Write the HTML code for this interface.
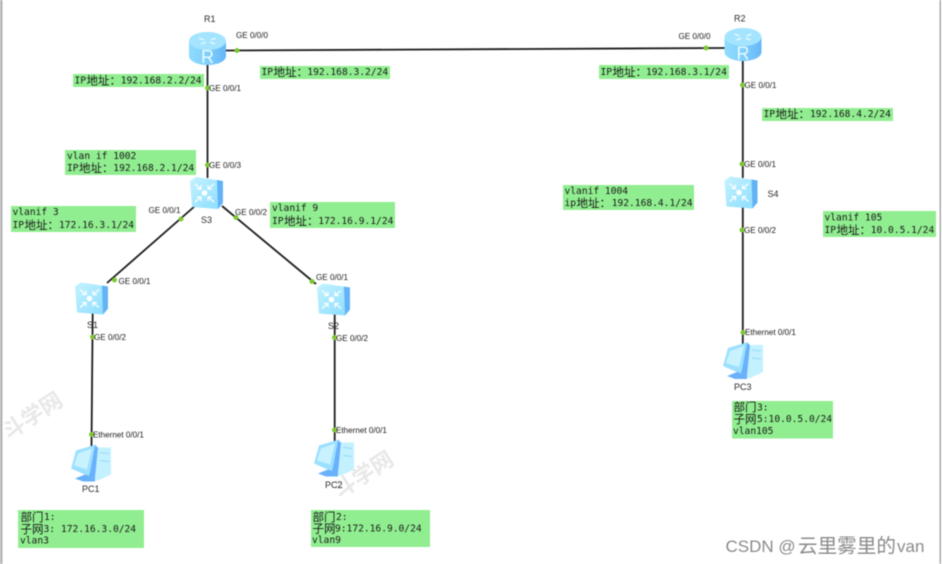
<!DOCTYPE html>
<html><head><meta charset="utf-8">
<style>
html,body{margin:0;padding:0;background:#fff;width:942px;height:564px;overflow:hidden}
svg{display:block;filter:blur(.4px)}
.l{stroke:#1c1c1c;stroke-width:1.8;fill:none}
.d{fill:#7dc832}
.g{fill:#90ee90}
.p{font:8.1px "Liberation Sans",sans-serif;fill:#1c1c1c}
.n{font:9px "Liberation Sans",sans-serif;fill:#2a2a2a}
.m{font:9.6px "DejaVu Sans Mono","Liberation Mono",monospace;fill:#1a1a1a}
.c{font:11.5px "Noto Sans CJK SC","WenQuanYi Zen Hei",sans-serif;fill:#1a1a1a}
.w{font:bold 22px "Noto Sans CJK SC",sans-serif;fill:#e8e8e8}
.s{font:17px "Liberation Sans","Noto Sans CJK SC",sans-serif;fill:#8a8a8a}
.s2{font:19.6px "Noto Sans CJK SC",sans-serif;fill:#8a8a8a}
</style></head><body>
<svg width="942" height="564" viewBox="0 0 942 564" xmlns="http://www.w3.org/2000/svg">
<defs>
<linearGradient id="rb" x1="0" x2="1" y1="0" y2="0"><stop offset="0" stop-color="#8fdcff"/><stop offset=".55" stop-color="#7fcdfc"/><stop offset="1" stop-color="#65b6f7"/></linearGradient>
<linearGradient id="sb" x1="0" x2="1" y1="0" y2="1"><stop offset="0" stop-color="#c4f3ff"/><stop offset="1" stop-color="#8adcff"/></linearGradient>
<g id="router">
<path d="M0 9V24C0 29 8 33 18.500 33S37 29 37 24V9Z" fill="url(#rb)"/>
<ellipse cx="18.500" cy="9" rx="18.500" ry="9" fill="#a4e4ff"/>
<path d="M10 6l5 2M27 6l-5 2M12 12l5-2M26 12l-5-2" stroke="#e8fbff" stroke-width="1.400" fill="none"/>
</g>
<g id="switch">
<path d="M0 4L6 0L33 4V26L28 32L2 30Z" fill="url(#sb)"/>
<path d="M27 3L33 4V26L28 32Z" fill="#63b2f6"/>
<circle cx="14.500" cy="16" r="2.800" fill="#fff"/>
<path d="M5 7l6 5M24 7l-6 5M5 25l6-5M24 25l-6-5M11 8v4h-4M18 8v4h4M11 24v-4h-4M18 24v-4h4" stroke="#fff" stroke-width="1.200" fill="none"/>
</g>
<g id="pc">
<path d="M25 3H40V30L27 36H24Z" fill="#c4f1ff"/>
<path d="M29 8L38 9M29 16L38 17" stroke="#93d9f7" stroke-width="1"/>
<path d="M5 6L25 0L26 3L19 30L16 31L0 24Z" fill="#9ce0ff"/>
<path d="M7 9L21 4L16 25L3 21Z" fill="#c9f2ff"/>
<path d="M24 1L27 3L24 33L17 33L19 28Z" fill="#69b1fb"/>
<path d="M4 34L14 30L24 33V37H12Z" fill="#69b1fb"/>
</g>
</defs>

<rect x="0" y="0" width="2.500" height="564" fill="#b4b4b4"/>
<rect x="939.500" y="0" width="1.500" height="564" fill="#a8a8a8"/>

<text class="w" transform="translate(9,440) rotate(-33)">斗学网</text>
<text class="w" transform="translate(340,499) rotate(-33)">斗学网</text>

<path class="l" d="M226 50.500L725 48"/>
<path class="l" d="M207.500 62V178"/>
<path class="l" d="M195 206L107 283"/>
<path class="l" d="M222 206L316 284"/>
<path class="l" d="M92.700 312L91.500 446"/>
<path class="l" d="M334.700 312V441"/>
<path class="l" d="M742.800 60V178"/>
<path class="l" d="M742.800 205V344"/>

<use href="#router" x="189" y="32"/>
<text x="207.500" y="63" font-family="Liberation Sans" font-size="18" fill="#e8fbff" text-anchor="middle">R</text>
<use href="#router" x="724.500" y="28"/>
<text x="743" y="59.500" font-family="Liberation Sans" font-size="18" fill="#e8fbff" text-anchor="middle">R</text>
<use href="#switch" x="190" y="177"/>
<use href="#switch" x="75" y="282.500"/>
<use href="#switch" x="317" y="283.500"/>
<use href="#switch" x="724.500" y="176.500"/>
<use href="#pc" x="71" y="444.500"/>
<use href="#pc" x="314" y="439.500"/>
<use href="#pc" x="723" y="342"/>

<g class="d">
<circle cx="237" cy="50.500" r="2.500"/><circle cx="207.500" cy="88" r="2.500"/><circle cx="207.500" cy="165" r="2.500"/>
<circle cx="181" cy="219" r="2.500"/><circle cx="236" cy="217.500" r="2.500"/><circle cx="114.500" cy="280" r="2.500"/>
<circle cx="312" cy="281.500" r="2.500"/><circle cx="92.500" cy="337" r="2.500"/><circle cx="334.500" cy="337.500" r="2.500"/>
<circle cx="91.500" cy="434.500" r="2.500"/><circle cx="334.500" cy="430" r="2.500"/><circle cx="706" cy="48" r="2.500"/>
<circle cx="742.500" cy="85" r="2.500"/><circle cx="742" cy="164" r="2.500"/><circle cx="742" cy="230" r="2.500"/><circle cx="743" cy="332.500" r="2.500"/>
</g>

<g class="p">
<text x="236" y="38">GE 0/0/0</text>
<text x="209" y="91">GE 0/0/1</text>
<text x="209" y="168">GE 0/0/3</text>
<text x="148.500" y="213">GE 0/0/1</text>
<text x="235" y="215">GE 0/0/2</text>
<text x="118.500" y="284">GE 0/0/1</text>
<text x="316" y="280">GE 0/0/1</text>
<text x="94" y="340">GE 0/0/2</text>
<text x="336" y="341">GE 0/0/2</text>
<text x="93" y="437.500">Ethernet 0/0/1</text>
<text x="336" y="433">Ethernet 0/0/1</text>
<text x="678.500" y="39">GE 0/0/0</text>
<text x="744.500" y="88">GE 0/0/1</text>
<text x="744" y="167">GE 0/0/1</text>
<text x="744" y="233">GE 0/0/2</text>
<text x="745" y="335">Ethernet 0/0/1</text>
</g>
<g class="n">
<text x="204" y="22">R1</text><text x="734" y="21.500">R2</text>
<text x="201" y="223">S3</text><text x="87" y="328">S1</text><text x="328" y="329">S2</text><text x="767.500" y="197">S4</text>
<text x="82" y="492">PC1</text><text x="325" y="488">PC2</text><text x="734" y="390">PC3</text>
</g>

<rect class="g" x="73" y="74" width="131" height="13"/>
<text class="m" x="74.500" y="83.500">IP</text><text class="c" x="86.500" y="84.500">地址：</text><text class="m" x="120.700" y="83.500">192.168.2.2/24</text>

<rect class="g" x="260" y="66" width="130" height="13"/>
<text class="m" x="261.500" y="75">IP</text><text class="c" x="273.500" y="76">地址：</text><text class="m" x="307.300" y="75">192.168.3.2/24</text>

<rect class="g" x="65" y="150" width="131" height="25"/>
<text class="m" x="67" y="159">vlan if 1002</text>
<text class="m" x="67" y="171">IP</text><text class="c" x="79" y="172">地址：</text><text class="m" x="113.300" y="171">192.168.2.1/24</text>

<rect class="g" x="11" y="206" width="125" height="26"/>
<text class="m" x="12.500" y="215">vlanif 3</text>
<text class="m" x="12.500" y="228">IP</text><text class="c" x="24.500" y="229">地址：</text><text class="m" x="59" y="228">172.16.3.1/24</text>

<rect class="g" x="270" y="202" width="125" height="26"/>
<text class="m" x="272" y="211">vlanif 9</text>
<text class="m" x="272" y="224">IP</text><text class="c" x="284" y="225">地址：</text><text class="m" x="318.300" y="224">172.16.9.1/24</text>

<rect class="g" x="599" y="65" width="130" height="14"/>
<text class="m" x="600.500" y="75">IP</text><text class="c" x="612.500" y="76">地址：</text><text class="m" x="646" y="75">192.168.3.1/24</text>

<rect class="g" x="762" y="108" width="131" height="13"/>
<text class="m" x="763.500" y="117">IP</text><text class="c" x="775.500" y="118">地址：</text><text class="m" x="810" y="117">192.168.4.2/24</text>

<rect class="g" x="563" y="185" width="131" height="25"/>
<text class="m" x="564.500" y="194">vlanif 1004</text>
<text class="m" x="564.500" y="206">ip</text><text class="c" x="576.500" y="207">地址：</text><text class="m" x="611.700" y="206">192.168.4.1/24</text>

<rect class="g" x="823" y="211" width="113" height="26"/>
<text class="m" x="824.500" y="220.500">vlanif 105</text>
<text class="m" x="824.500" y="233">IP</text><text class="c" x="836.500" y="234">地址：</text><text class="m" x="870.700" y="233">10.0.5.1/24</text>

<rect class="g" x="18" y="510" width="126" height="38"/>
<text class="c" x="20.500" y="521">部门</text><text class="m" x="44" y="520">1:</text>
<text class="c" x="20.500" y="533">子网</text><text class="m" x="43.500" y="532">3:</text><text class="m" x="61" y="532">172.16.3.0/24</text>
<text class="m" x="20" y="543.500">vlan3</text>

<rect class="g" x="311" y="510" width="119" height="37"/>
<text class="c" x="312.500" y="521">部门</text><text class="m" x="336" y="520">2:</text>
<text class="c" x="312.500" y="532.500">子网</text><text class="m" x="335" y="531.500">9:172.16.9.0/24</text>
<text class="m" x="312" y="543">vlan9</text>

<rect class="g" x="732" y="401" width="101" height="37.500"/>
<text class="c" x="733.500" y="411">部门</text><text class="m" x="757" y="410.500">3:</text>
<text class="c" x="733.500" y="423">子网</text><text class="m" x="757" y="422">5:10.0.5.0/24</text>
<text class="m" x="733" y="434">vlan105</text>

<text class="s" x="725.500" y="552">CSDN @</text>
<text class="s2" x="798" y="552.500">云里雾里的</text>
<text class="s" x="897" y="552">van</text>
</svg>
</body></html>
